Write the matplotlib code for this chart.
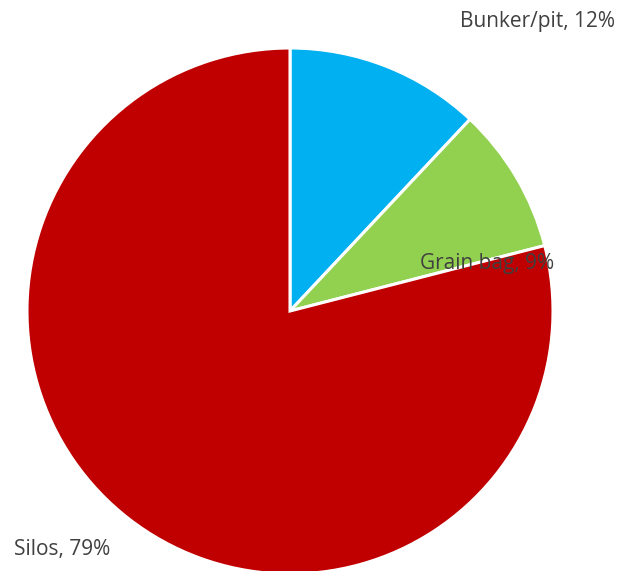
import matplotlib
matplotlib.use("Agg")
import matplotlib.pyplot as plt

labels = ["Bunker/pit", "Grain bag", "Silos"]
shares = [12, 9, 79]
colors = ["#00B0F0", "#92D050", "#C00000"]

W, H = 619, 571
fig = plt.figure(figsize=(W / 100, H / 100), dpi=100)
ax = fig.add_axes([0, 0, 1, 1])

ax.pie(shares, colors=colors, startangle=90, counterclock=False,
       center=(290, H - 311), radius=263, frame=True,
       wedgeprops=dict(edgecolor="white", linewidth=2.2))
ax.set_xlim(0, W); ax.set_ylim(0, H); ax.set_aspect("equal"); ax.axis("off")

# label positions (pixel coords, top-left origin)
pos = [(460, 22), (420, 263), (14, 550)]
for (lx, ly), lab, v in zip(pos, labels, shares):
    ax.text(lx, H - ly, f"{lab}, {v}%", fontsize=15, family="Open Sans",
            color="#404040", ha="left", va="center")

fig.savefig("out.png", dpi=100)
